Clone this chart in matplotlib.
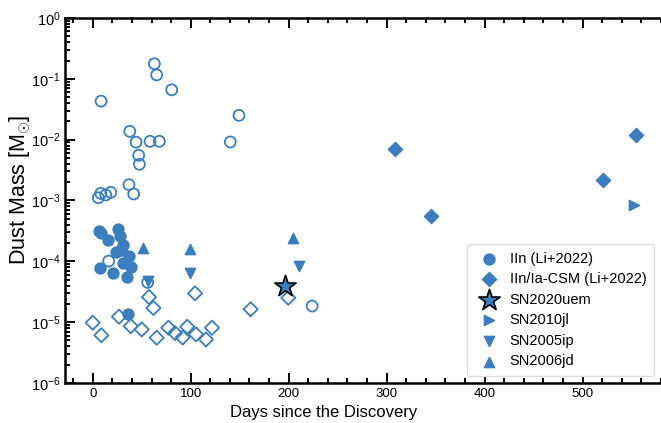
import matplotlib
matplotlib.use("Agg")
import matplotlib.pyplot as plt
from matplotlib.ticker import MultipleLocator, LogLocator, NullFormatter

plt.rcParams['font.family'] = ['Liberation Sans', 'DejaVu Sans']
plt.rcParams['mathtext.fontset'] = 'custom'
plt.rcParams['mathtext.rm'] = 'Liberation Sans'

c = '#3a7ebf'

# IIn sample (Li+2022): filled = measured, open = other epochs/limits
iin_day = [6.8, 8.8, 16, 25.8, 27.9, 31.2, 28.6, 23.8, 37, 30.6, 38.8, 7.8, 20.4, 35, 36]
iin_mass = [3.2e-4, 2.95e-4, 2.24e-4, 3.44e-4, 2.6e-4, 1.85e-4, 1.53e-4, 1.44e-4,
            1.22e-4, 9.3e-5, 8.1e-5, 7.9e-5, 6.4e-5, 5.6e-5, 1.36e-5]
iin_open_day = [62.9, 65.3, 80.6, 8.5, 149.3, 37.8, 44.2, 58.5, 68, 140.4, 46.9, 47.6,
                37, 41.8, 18.4, 5.7, 8.2, 13.3, 16.3, 56.1, 224]
iin_open_mass = [0.177, 0.116, 0.066, 0.043, 0.0251, 0.0137, 0.0091, 0.0094, 0.0094,
                 0.00916, 0.00553, 0.00394, 0.00182, 0.00128, 0.00136, 0.00111,
                 0.00131, 0.00123, 1.01e-4, 4.5e-5, 1.84e-5]

# IIn/Ia-CSM sample (Li+2022)
csm_day = [308.5, 345.3, 554.4, 520.4]
csm_mass = [7.0e-3, 5.6e-4, 0.0121, 2.15e-3]
csm_open_day = [0, 8.8, 26.8, 38.8, 50, 57.4, 61.9, 65.3, 77.2, 84, 104.4, 96.5, 91.8,
                105.4, 115.6, 121.7, 161.2, 199.6]
csm_open_mass = [9.8e-6, 6.1e-6, 1.23e-5, 8.6e-6, 7.6e-6, 2.59e-5, 1.71e-5, 5.55e-6,
                 8.1e-6, 6.6e-6, 2.98e-5, 8.4e-6, 5.6e-6, 6.3e-6, 5.2e-6, 8.1e-6,
                 1.63e-5, 2.52e-5]

uem_day = [196.5]
uem_mass = [4.0e-5]

jl_day = [552.3]
jl_mass = [8.4e-4]

ip_day = [56.8, 99.3, 210.8]
ip_mass = [4.75e-5, 6.4e-5, 8.4e-5]

jd_day = [51.6, 99.3, 204]
jd_mass = [1.67e-4, 1.6e-4, 2.4e-4]

fig = plt.figure(figsize=(6.61, 4.23), dpi=100)
ax = fig.add_axes([65.3 / 661, 1 - 383 / 423, 1 - 65.3 / 661, (383 - 18) / 423])

ax.scatter(iin_open_day, iin_open_mass, s=62, facecolor='none', edgecolor=c, linewidth=1.3, marker='o')
ax.scatter(csm_open_day, csm_open_mass, s=52, facecolor='none', edgecolor=c, linewidth=1.3, marker='D')
ax.scatter(iin_day, iin_mass, s=62, color=c, marker='o', label='IIn (Li+2022)')
ax.scatter(csm_day, csm_mass, s=52, color=c, marker='D', label='IIn/Ia-CSM (Li+2022)')
ax.scatter(uem_day, uem_mass, s=260, color=c, edgecolor='k', linewidth=1.2, marker='*',
           label='SN2020uem', zorder=4)
ax.scatter(jl_day, jl_mass, s=55, color=c, marker='>', label='SN2010jl')
ax.scatter(ip_day, ip_mass, s=55, color=c, marker='v', label='SN2005ip')
ax.scatter(jd_day, jd_mass, s=55, color=c, marker='^', label='SN2006jd')

ax.set_yscale('log')
ax.set_ylim(1e-6, 1)
ax.set_xlim(-28, 580)
ax.xaxis.set_major_locator(MultipleLocator(100))
ax.xaxis.set_minor_locator(MultipleLocator(20))
ax.yaxis.set_major_locator(LogLocator(base=10, numticks=10))
ax.yaxis.set_minor_locator(LogLocator(base=10, subs=range(2, 10), numticks=20))
ax.yaxis.set_minor_formatter(NullFormatter())

ax.tick_params(which='both', direction='in', top=True, right=False, width=1.4)
ax.tick_params(axis='x', labelsize=9.5)
ax.tick_params(axis='y', labelsize=10.5)
ax.tick_params(which='major', length=7)
ax.tick_params(which='minor', length=3.5)
for s in ax.spines.values():
    s.set_linewidth(1.8)
ax.spines['right'].set_visible(False)

ax.set_xlabel('Days since the Discovery', fontsize=12, x=0.434)
ax.set_ylabel(r'Dust Mass [M$_{\odot}$]', fontsize=15.5, labelpad=-2, y=0.53)

leg = ax.legend(loc='lower right', fontsize=10.5, scatterpoints=1, handletextpad=0.4,
                borderpad=0.5, labelspacing=0.45, framealpha=1)
leg.get_frame().set_edgecolor('#dddddd')

fig.savefig('out.png', dpi=100)
